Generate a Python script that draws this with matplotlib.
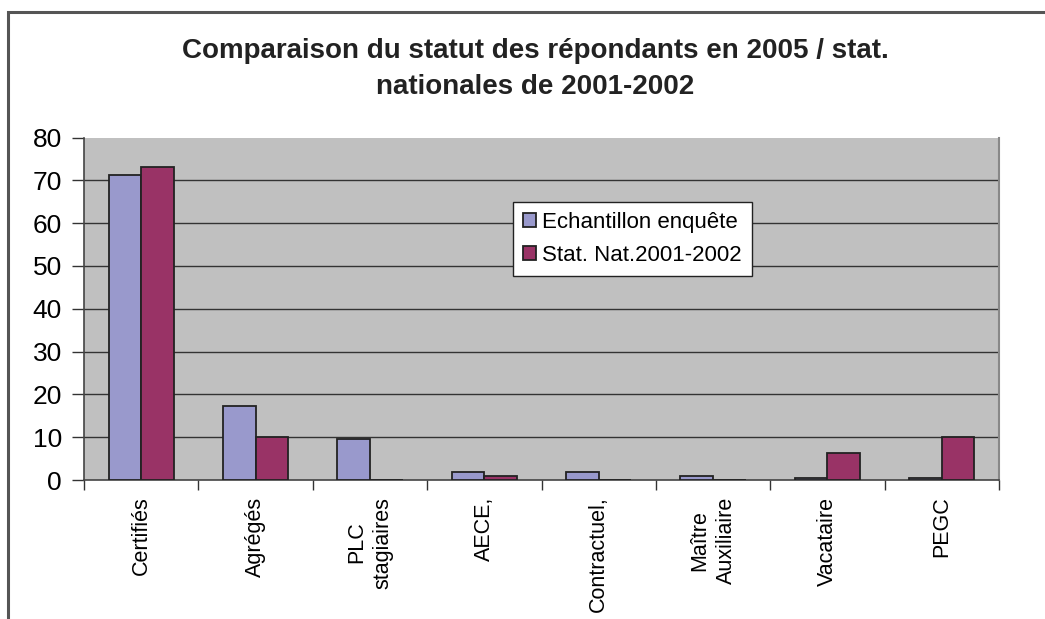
import matplotlib
matplotlib.use("Agg")
import matplotlib.pyplot as plt
import numpy as np
from matplotlib.patches import Rectangle

plt.rcParams['font.family'] = ['Liberation Sans', 'DejaVu Sans']

categories = ["Certifiés", "Agrégés", "PLC\nstagiaires", "AECE,", "Contractuel,",
              "Maître\nAuxiliaire", "Vacataire", "PEGC"]
echantillon = [71.2, 17.3, 9.5, 1.8, 1.8, 0.9, 0.4, 0.4]
stat_nat = [73.2, 10.0, 0.0, 1.0, 0.0, 0.0, 6.2, 10.0]
series_names = ["Echantillon enquête", "Stat. Nat.2001-2002"]
yticks = [0, 10, 20, 30, 40, 50, 60, 70, 80]
title = "Comparaison du statut des répondants en 2005 / stat.\nnationales de 2001-2002"

W, H = 1045, 619
fig = plt.figure(figsize=(W / 100, H / 100), dpi=100)
fig.patch.set_facecolor("white")

# outer chart frame (only top and left visible)
fig.patches.append(Rectangle((8 / W, -0.2), 1.2, (H - 12) / H + 0.2,
                             transform=fig.transFigure, fill=False,
                             edgecolor="#555555", linewidth=2.2, zorder=0))

ax = fig.add_axes([84 / W, (H - 480) / H, (999 - 84) / W, (480 - 137.5) / H])
ax.set_facecolor("#C0C0C0")

x = np.arange(len(categories))
w = 1 / 3.5
ax.bar(x - w / 2, echantillon, width=w, color="#9999CC", edgecolor="#222222",
       linewidth=1.3, label=series_names[0], zorder=3)
ax.bar(x + w / 2, stat_nat, width=w, color="#993366", edgecolor="#222222",
       linewidth=1.3, label=series_names[1], zorder=3)

ax.set_xlim(-0.5, len(categories) - 0.5)
ax.set_ylim(0, 80)
ax.set_yticks(yticks)
ax.set_yticklabels([str(v) for v in yticks], fontsize=19)
ax.yaxis.grid(True, color="#333333", linewidth=1.0, zorder=1)
gl = ax.yaxis.get_gridlines()
gl[0].set_visible(False)
gl[-1].set_visible(False)
ax.set_axisbelow(True)

ax.set_xticks(x)
ax.set_xticklabels(categories, rotation=90, fontsize=15.5, va="top", ha="center",
                   multialignment="center", linespacing=1.3)
ax.tick_params(axis="x", which="major", length=0, pad=12)
ax.set_xticks(np.arange(-0.5, len(categories) + 0.5, 1), minor=True)
ax.tick_params(axis="x", which="minor", length=7, width=1, color="#333333")
ax.tick_params(axis="y", length=9, width=1, color="#333333", pad=7)

for s in ["left", "bottom"]:
    ax.spines[s].set_color("#444444")
    ax.spines[s].set_linewidth(1.2)
ax.spines["top"].set_visible(False)
ax.spines["right"].set_color("#888888")
ax.spines["right"].set_linewidth(1.5)

leg = ax.legend(loc="upper left", bbox_to_anchor=((513 - 84) / (999 - 84), (480 - 202) / (480 - 137.5)),
                fontsize=16, frameon=True, fancybox=False, edgecolor="#222222",
                framealpha=1, facecolor="white",
                handlelength=0.6, handleheight=0.6, handletextpad=0.25,
                borderpad=0.45, labelspacing=0.55, borderaxespad=0)
leg.get_frame().set_linewidth(1.0)

fig.text(535 / W, 1 - 69 / H, title, ha="center", va="center", fontsize=20,
         fontweight="bold", linespacing=1.5, color="#222222")

fig.savefig("out.png", dpi=100)
